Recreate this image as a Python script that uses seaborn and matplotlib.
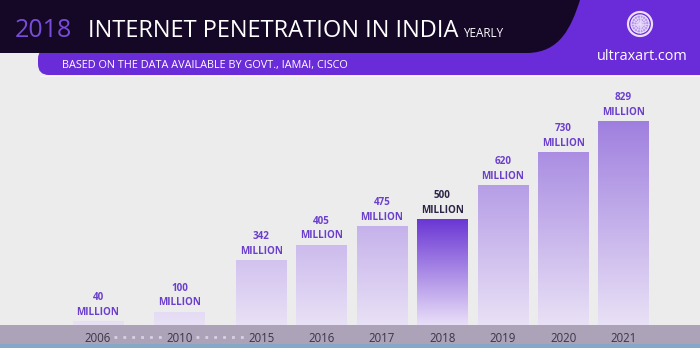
import numpy as np
import pandas as pd
import matplotlib
matplotlib.use("Agg")
import matplotlib.pyplot as plt
import seaborn as sns
from matplotlib.patches import Rectangle, Circle, PathPatch, FancyBboxPatch
from matplotlib.path import Path
from matplotlib.colors import LinearSegmentedColormap
from matplotlib.transforms import blended_transform_factory

# ---------------- data ----------------
years = ["2006", "2010", "2015", "2016", "2017", "2018", "2019", "2020", "2021"]
users_million = [40, 100, 342, 405, 475, 500, 620, 730, 829]
unit_label = "MILLION"
highlight_year = "2018"
title_year = "2018"
title_text = "INTERNET PENETRATION IN INDIA"
title_suffix = "YEARLY"
subtitle = "BASED ON THE DATA AVAILABLE BY GOVT., IAMAI, CISCO"
brand = "ultraxart.com"

# ---------------- style / layout ----------------
W, H = 700, 348
BG = "#ececec"
DARK = "#140826"
PURPLE = "#6a2bd8"
BAND = "#aca3b8"
STRIP = "#86a8c8"
LABEL_C = "#6b3fcc"
LABEL_HI = "#2c2346"
TICK_C = "#3a3646"
GAP_STEP = 1.35          # wider slot between non-consecutive years
UNIT_PX = 60.4           # pixels per slot
FIRST_PX = 98            # centre of first bar
BASE_PX = 325            # baseline (top of year band)
TOP_PX = 90              # top of plotting area
TALLEST_PX = 204         # drawn height of the tallest bar
EXP = 1.3                # the infographic's height exaggeration

sns.set_theme(style="white")
plt.rcParams["font.family"] = ["Open Sans", "DejaVu Sans"]

steps = [0.0] + [1.0 if int(b) - int(a) == 1 else GAP_STEP
                 for a, b in zip(years[:-1], years[1:])]
pos = np.cumsum(steps)
df = pd.DataFrame({"pos": pos, "year": years, "users": users_million})

fig = plt.figure(figsize=(W / 100, H / 100), dpi=100)
fig.patch.set_facecolor(BG)

# background / decoration axes in pixel coordinates
bg = fig.add_axes([0, 0, 1, 1], zorder=0)
bg.set_xlim(0, W)
bg.set_ylim(H, 0)
bg.axis("off")

# year band and bottom strip
bg.add_patch(Rectangle((0, BASE_PX), W, 19, fc=BAND, ec="none"))
bg.add_patch(Rectangle((0, BASE_PX + 19), W, H - BASE_PX - 19, fc=STRIP, ec="none"))

# header: purple band, right block, dark title band
bg.add_patch(FancyBboxPatch((38, 48), 700, 27, boxstyle="round,pad=0,rounding_size=11",
                            fc=PURPLE, ec="none"))
bg.add_patch(Rectangle((480, 0), W - 480, 60, fc=PURPLE, ec="none"))
bg.add_patch(Rectangle((40, 75.5), W - 40, 1.5, fc="#f7f4fc", ec="none"))
verts = [(0, 0), (580, 0), (571, 28), (560, 52), (528, 53), (0, 53), (0, 0)]
codes = [Path.MOVETO, Path.LINETO, Path.CURVE4, Path.CURVE4, Path.CURVE4,
         Path.LINETO, Path.CLOSEPOLY]
bg.add_patch(PathPatch(Path(verts, codes), fc=DARK, ec="none"))

bg.text(15, 37, title_year, color="#7a4bd8", fontsize=18, va="baseline")
bg.text(88, 37, title_text, color="white", fontsize=17, va="baseline")
bg.text(463, 37, title_suffix, color="white", fontsize=8.5, va="baseline")
bg.text(62, 68, subtitle, color="white", fontsize=7.8, va="baseline")
bg.text(642, 60, brand, color="white", fontsize=10.4, ha="center", va="baseline")

# logo
lc = "#ecdffc"
cx, cy = 640, 24
bg.add_patch(Circle((cx, cy), 12, fill=False, ec=lc, lw=1.6))
bg.add_patch(Circle((cx, cy), 9, fc="#b596ee", ec=lc, lw=0.9))
for r in (6, 3.2):
    bg.add_patch(Circle((cx, cy), r, fill=False, ec=lc, lw=0.5))
for ang in np.arange(0, 180, 22.5):
    dx, dy = 9 * np.cos(np.radians(ang)), 9 * np.sin(np.radians(ang))
    bg.plot([cx - dx, cx + dx], [cy - dy, cy + dy], color=lc, lw=0.5)

# ---------------- bars ----------------
ax = fig.add_axes([0, (H - BASE_PX) / H, 1, (BASE_PX - TOP_PX) / H], zorder=1)
ax.patch.set_alpha(0)

sns.barplot(data=df, x="pos", y="users", native_scale=True, width=0.83,
            color="#b9a0e6", saturation=1, edgecolor="none", errorbar=None, ax=ax)


def fwd(v):
    v = np.asarray(v, dtype=float)
    return np.sign(v) * np.abs(v) ** EXP


def inv(v):
    v = np.asarray(v, dtype=float)
    return np.sign(v) * np.abs(v) ** (1 / EXP)


ax.set_yscale("function", functions=(fwd, inv))
ymax = float(inv(fwd(max(users_million)) * (BASE_PX - TOP_PX) / TALLEST_PX))
xlim = (pos[0] - FIRST_PX / UNIT_PX, pos[0] + (W - FIRST_PX) / UNIT_PX)
ax.set_ylim(0, ymax)
ax.set_xlim(*xlim)

cmap_reg = LinearSegmentedColormap.from_list("reg", ["#e9e1f6", "#9470db"])
cmap_hi = LinearSegmentedColormap.from_list("hi", ["#e9dff8", "#6a36d4"])
grad = np.linspace(0, 1, 256).reshape(-1, 1)

bars = list(ax.patches)
fracs = []
for p in bars:
    top_disp = ax.transData.transform((p.get_x(), p.get_height()))
    fracs.append(ax.transAxes.inverted().transform(top_disp)[1])

for p, frac in zip(bars, fracs):
    cx_bar = p.get_x() + p.get_width() / 2
    i = int(np.argmin(np.abs(pos - cx_bar)))
    p.set_facecolor("none")
    if years[i] == highlight_year:
        im = ax.imshow(grad, extent=(0, 1, 0, frac), transform=ax.transAxes,
                       cmap=cmap_hi, aspect="auto", origin="lower", zorder=2,
                       interpolation="bilinear")
    else:
        im = ax.imshow(grad, extent=(0, 1, 0, 1), transform=ax.transAxes,
                       cmap=cmap_reg, aspect="auto", origin="lower", zorder=2,
                       interpolation="bilinear")
    im.set_clip_path(p)
    ax.annotate(f"{users_million[i]}\n{unit_label}", xy=(pos[i], users_million[i]),
                xytext=(0, 2.5), textcoords="offset points", ha="center", va="bottom",
                fontsize=7.1, fontweight="bold",
                color=LABEL_HI if years[i] == highlight_year else LABEL_C,
                linespacing=1.45, zorder=3)

ax.set_ylim(0, ymax)
ax.set_xlim(*xlim)
ax.set_xticks(pos, labels=years)
ax.set_yticks([])
ax.tick_params(axis="x", length=0, pad=5, labelsize=8.3, labelcolor=TICK_C)
ax.set_xlabel("")
ax.set_ylabel("")
for s in ax.spines.values():
    s.set_visible(False)

# dotted connectors between non-consecutive years
tr = blended_transform_factory(ax.transData, bg.transData)
for a, b, step in zip(pos[:-1], pos[1:], steps[1:]):
    if step > 1:
        bg.plot([a + 0.27, b - 0.27], [337, 337], transform=tr, color="#d9d2e2",
                lw=2, linestyle=(0, (1, 2.2)), clip_on=False, solid_capstyle="butt")

fig.savefig("out.png", dpi=100, facecolor=fig.get_facecolor())
